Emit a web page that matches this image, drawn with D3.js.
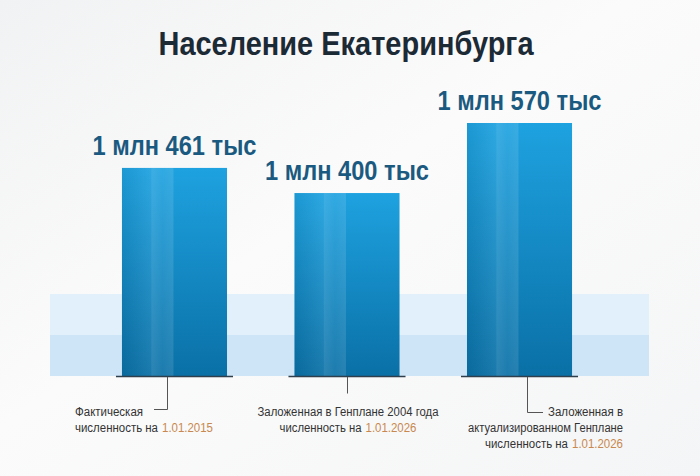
<!DOCTYPE html>
<html><head><meta charset="utf-8">
<script src="https://cdn.jsdelivr.net/npm/d3@7"></script>
<style>body{margin:0;background:#fff;} svg{display:block}</style>
</head><body>
<svg id="c" width="700" height="476"></svg>
<script>
const titleText = "Население Екатеринбурга";
const categories = ["fact2015", "plan2004", "plan2026"];
const values = [1461, 1400, 1570];
const valueLabels = ["1 млн 461 тыс", "1 млн 400 тыс", "1 млн 570 тыс"];
const noteLines = [
  [["Фактическая", ""], ["численность на", "1.01.2015"]],
  [["Заложенная в Генплане 2004 года", ""], ["численность на", "1.01.2026"]],
  [["Заложенная в", ""], ["актуализированном Генплане", ""], ["численность на", "1.01.2026"]]
];

const W = 700, H = 476;
const svg = d3.select("#c");
const defs = svg.append("defs");

const font = "'Liberation Sans',Arial,sans-serif";

// background
const bg = defs.append("linearGradient").attr("id", "bg").attr("x1", 0).attr("y1", 0).attr("x2", 1).attr("y2", 1);
bg.append("stop").attr("offset", 0).attr("stop-color", "#f1f2f3");
bg.append("stop").attr("offset", 0.45).attr("stop-color", "#fbfbfb");
bg.append("stop").attr("offset", 1).attr("stop-color", "#f4f5f6");
svg.append("rect").attr("width", W).attr("height", H).attr("fill", "url(#bg)");

// scales
const baseY = 376;
const x = d3.scaleBand().domain(categories).range([47, 647]).paddingInner(0.391).paddingOuter(0.4345);
const y = d3.scaleLinear().domain([956, 1570]).range([baseY, 123]);
const bw = x.bandwidth();

// light background bands
svg.append("rect").attr("x", 50).attr("y", 294).attr("width", 599).attr("height", 41).attr("fill", "#e1f0fb");
svg.append("rect").attr("x", 50).attr("y", 335).attr("width", 599).attr("height", 41).attr("fill", "#cde5f7");

// gradients
const gv = defs.append("linearGradient").attr("id", "barV").attr("x1", 0).attr("y1", 0).attr("x2", 0).attr("y2", 1);
gv.append("stop").attr("offset", 0).attr("stop-color", "#1ea2e0");
gv.append("stop").attr("offset", 1).attr("stop-color", "#0a70a6");
const gl = defs.append("linearGradient").attr("id", "barL").attr("x1", 0).attr("y1", 0).attr("x2", 1).attr("y2", 0);
gl.append("stop").attr("offset", 0).attr("stop-color", "#000").attr("stop-opacity", 0.06);
gl.append("stop").attr("offset", 1).attr("stop-color", "#fff").attr("stop-opacity", 0.07);
const gs = defs.append("linearGradient").attr("id", "barS").attr("x1", 0).attr("y1", 0).attr("x2", 1).attr("y2", 0);
gs.append("stop").attr("offset", 0).attr("stop-color", "#fff").attr("stop-opacity", 0.14);
gs.append("stop").attr("offset", 0.5).attr("stop-color", "#fff").attr("stop-opacity", 0.08);
gs.append("stop").attr("offset", 1).attr("stop-color", "#fff").attr("stop-opacity", 0.12);

const data = categories.map((c, i) => ({ c, v: values[i], label: valueLabels[i], note: noteLines[i], i }));

const bars = svg.append("g").selectAll("g").data(data).join("g");
bars.append("rect").attr("x", d => x(d.c)).attr("y", d => y(d.v)).attr("width", bw)
  .attr("height", d => baseY - y(d.v)).attr("fill", "url(#barV)");
bars.append("rect").attr("x", d => x(d.c)).attr("y", d => y(d.v)).attr("width", bw * 0.28)
  .attr("height", d => baseY - y(d.v)).attr("fill", "url(#barL)");
bars.append("rect").attr("x", d => x(d.c) + bw * 0.28).attr("y", d => y(d.v)).attr("width", bw * 0.21)
  .attr("height", d => baseY - y(d.v)).attr("fill", "url(#barS)");
bars.append("line").attr("x1", d => x(d.c) - 6).attr("x2", d => x(d.c) + bw + 6)
  .attr("y1", baseY + 0.5).attr("y2", baseY + 0.5).attr("stroke", "#2f3f4c").attr("stroke-width", 1.4);

// value labels
bars.append("text").attr("x", d => x(d.c) + bw / 2).attr("y", d => y(d.v) - 13)
  .attr("text-anchor", "middle").attr("font-family", font).attr("font-weight", "bold")
  .attr("font-size", 28).attr("fill", "#1b5a80")
  .attr("textLength", 164).attr("lengthAdjust", "spacingAndGlyphs").text(d => d.label);

// title
svg.append("text").attr("x", 346).attr("y", 55).attr("text-anchor", "middle")
  .attr("font-family", font).attr("font-weight", "bold").attr("font-size", 34)
  .attr("fill", "#1c2a36").attr("textLength", 375).attr("lengthAdjust", "spacingAndGlyphs")
  .text(titleText);

// annotations
const noteSize = 12;
const dateW = 51, gap = 4;
const noteCfg = [
  { anchor: "start", tx: 75, dx: -7, yEnd: 409, hx: 154, widths: [68, 138] },
  { anchor: "middle", tx: 348, dx: 0, yEnd: 393, hx: null, widths: [181, 137] },
  { anchor: "end", tx: 623, dx: 7, yEnd: 412, hx: 543, widths: [75, 155, 138] }
];
bars.each(function (d) {
  const g = d3.select(this);
  const cfg = noteCfg[d.i];
  const lx = Math.round(x(d.c) + bw / 2 + cfg.dx) + 0.5;
  const pts = [[lx, baseY + 1], [lx, cfg.yEnd + 0.5]];
  if (cfg.hx !== null) pts.push([cfg.hx, cfg.yEnd + 0.5]);
  g.append("path").attr("d", d3.line()(pts)).attr("fill", "none").attr("stroke", "#555").attr("stroke-width", 1);
  d.note.forEach((ln, k) => {
    const w = cfg.widths[k];
    const sx = cfg.anchor === "start" ? cfg.tx : cfg.anchor === "middle" ? cfg.tx - w / 2 : cfg.tx - w;
    const ty = 416 + k * 16;
    const pw = ln[1] ? w - dateW - gap : w;
    g.append("text").attr("font-family", font).attr("font-size", noteSize).attr("fill", "#333")
      .attr("x", sx).attr("y", ty)
      .attr("textLength", pw).attr("lengthAdjust", "spacingAndGlyphs").text(ln[0]);
    if (ln[1]) {
      g.append("text").attr("font-family", font).attr("font-size", noteSize).attr("fill", "#c8884e")
        .attr("x", sx + w - dateW).attr("y", ty)
        .attr("textLength", dateW).attr("lengthAdjust", "spacingAndGlyphs").text(ln[1]);
    }
  });
});
</script>
</body></html>
